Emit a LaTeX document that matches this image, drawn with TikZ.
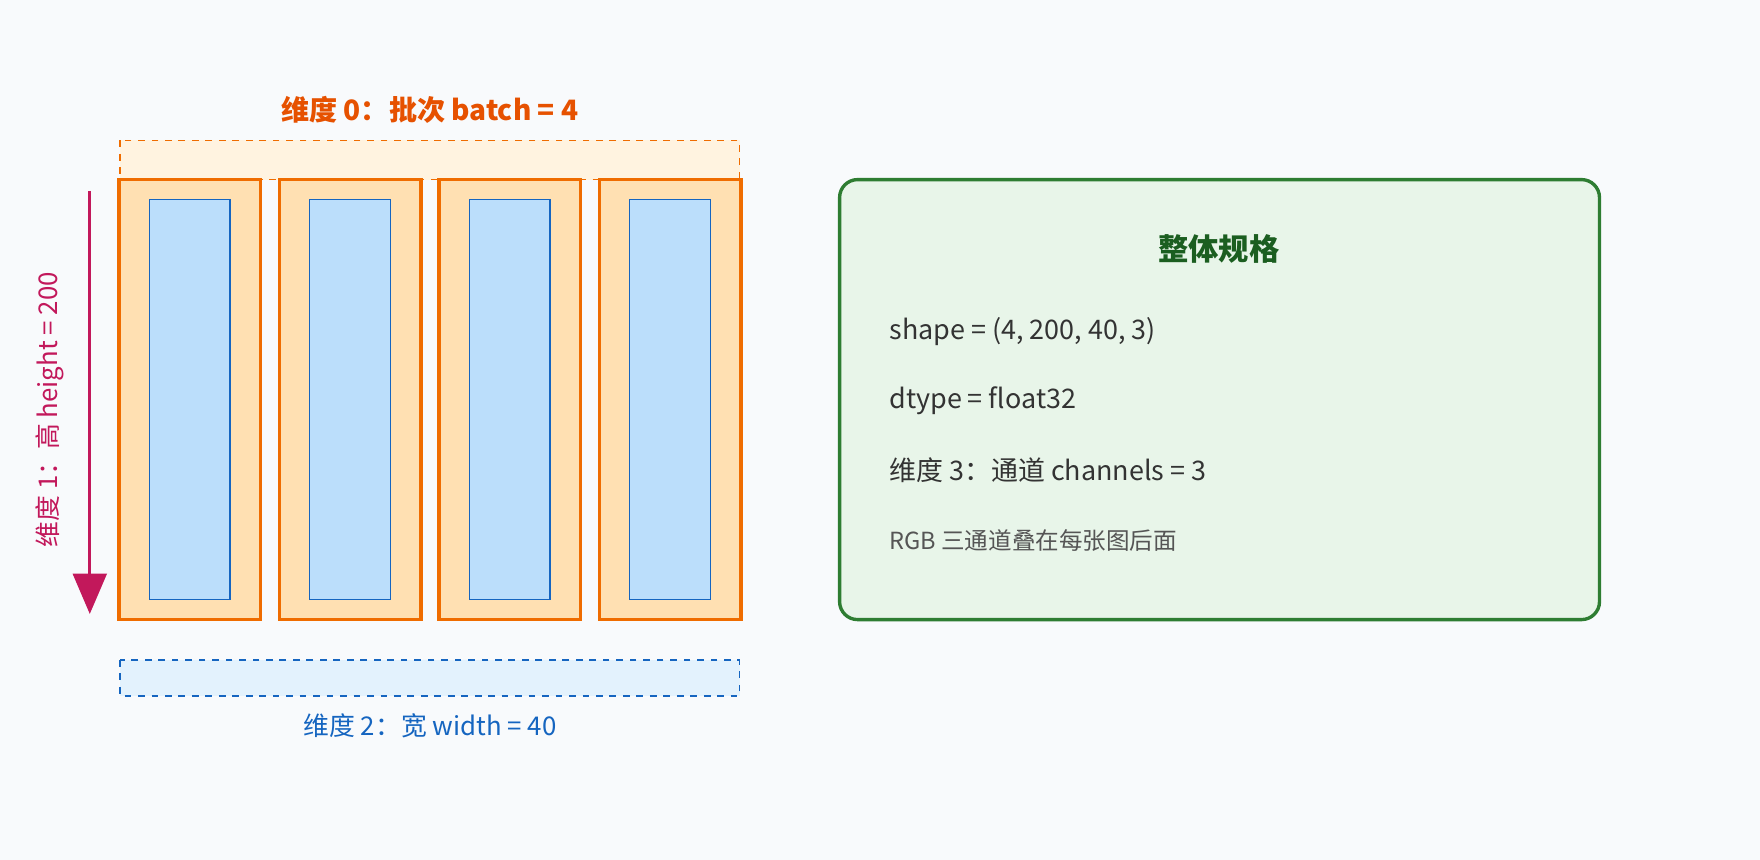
\documentclass[tikz,border=0pt]{standalone}
\usepackage{fontspec}
\setmainfont{Noto Sans CJK SC}
\usetikzlibrary{arrows.meta}
\definecolor{bg}{HTML}{F8FAFC}
\definecolor{org}{HTML}{EF6C00}
\definecolor{orgt}{HTML}{E65100}
\definecolor{orgf}{HTML}{FFE0B2}
\definecolor{orgl}{HTML}{FFF3E0}
\definecolor{blu}{HTML}{1565C0}
\definecolor{bluf}{HTML}{BBDEFB}
\definecolor{blul}{HTML}{E3F2FD}
\definecolor{pnk}{HTML}{C2185B}
\definecolor{grn}{HTML}{2E7D32}
\definecolor{grnf}{HTML}{E8F5E9}
\definecolor{grnt}{HTML}{1B5E20}
\definecolor{txt}{HTML}{333333}
\definecolor{gry}{HTML}{555555}
\tikzset{
 outer/.style={draw=org,fill=orgf,line width=1.5pt},
 inner/.style={draw=blu,fill=bluf,line width=0.6pt},
 info/.style={anchor=west,inner sep=0pt,text=txt,font=\fontsize{12}{14}\selectfont},
}
\begin{document}
\begin{tikzpicture}[x=0.5pt,y=-0.5pt]
\fill[bg] (0,0) rectangle (1568,766);
\useasboundingbox (0,0) rectangle (1568,766);
\node[text=orgt,font=\bfseries\fontsize{12.5}{14}\selectfont] (t0) at (383,98) {维度 0：批次 batch = 4};
\draw[org,fill=orgl,dashed,line width=0.6pt] (107,125) rectangle (659,160);
\foreach \i/\x in {1/106,2/249,3/391,4/534}{
 \draw[outer] (\x,160) rectangle ++(126,392);
 \draw[inner] (\x+27,178) rectangle ++(72,356);
}
\coordinate (a1) at (80,170);
\coordinate (a2) at (80,547);
\draw[pnk,line width=1.5pt,-{Triangle[length=18pt,width=15pt]}] (a1) -- (a2);
\node[text=pnk,rotate=90,font=\fontsize{11.5}{13}\selectfont] (t1) at (44,365) {维度 1：高 height = 200};
\draw[blu,fill=blul,dashed,line width=0.6pt] (107,588) rectangle (659,620);
\node[text=blu,font=\fontsize{11.5}{13}\selectfont] (t2) at (383,647) {维度 2：宽 width = 40};
\draw[grn,fill=grnf,line width=1.5pt,rounded corners=8pt] (748,160) rectangle (1425,552);
\node[text=grnt,font=\bfseries\fontsize{13.5}{15}\selectfont] (h) at (1086,222) {整体规格};
\node[info] (s1) at (792,295) {shape = (4, 200, 40, 3)};
\node[info] (s2) at (792,357) {dtype = float32};
\node[info] (s3) at (792,419) {维度 3：通道 channels = 3};
\node[info,text=gry,font=\fontsize{10.5}{12}\selectfont] (s4) at (792,482) {RGB 三通道叠在每张图后面};
\end{tikzpicture}
\end{document}
